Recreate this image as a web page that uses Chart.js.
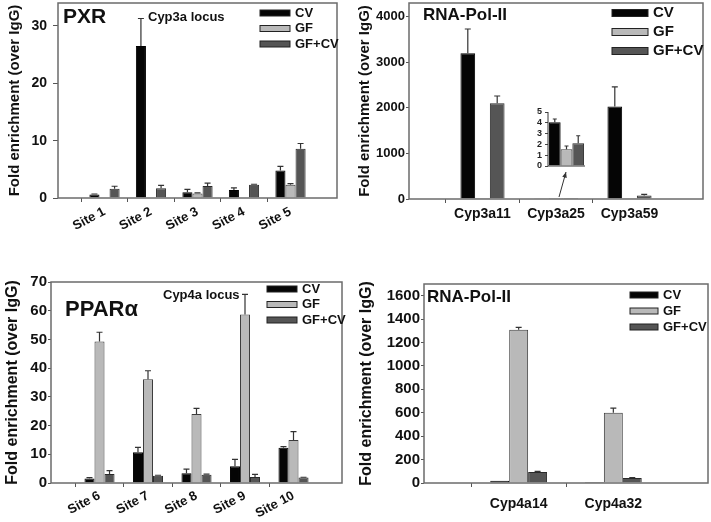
<!DOCTYPE html>
<html>
<head>
<meta charset="utf-8">
<script src="https://cdn.jsdelivr.net/npm/chart.js@4.4.0/dist/chart.umd.min.js"></script>
<style>
  body { margin: 0; background: #fff; }
  #wrap { position: relative; width: 711px; height: 522px; overflow: hidden; }
  canvas { position: absolute; }
</style>
</head>
<body>
<div id="wrap">
  <canvas id="pxrChart" width="355" height="240" style="left:0;top:0"></canvas>
  <canvas id="pol3Chart" width="356" height="240" style="left:355px;top:0"></canvas>
  <canvas id="insetChart" width="75" height="70" style="left:520px;top:100px"></canvas>
  <canvas id="pparChart" width="355" height="262" style="left:0;top:260px"></canvas>
  <canvas id="pol4Chart" width="356" height="262" style="left:355px;top:260px"></canvas>
</div>
<script>
// PXR ChIP, Cyp3a locus
const pxrSites = ['Site 1', 'Site 2', 'Site 3', 'Site 4', 'Site 5'];
const pxrTicks = [0, 10, 20, 30];
const pxrCV = [0.6, 26.5, 1.0, 1.4, 4.8];
const pxrCVErr = [0.1, 4.8, 0.5, 0.35, 0.7];
const pxrGF = [null, null, 0.8, null, 2.3];
const pxrGFErr = [null, null, 0.1, null, 0.2];
const pxrGFCV = [1.6, 1.7, 2.1, 2.3, 8.6];
const pxrGFCVErr = [0.45, 0.5, 0.5, 0.1, 0.9];

// RNA-Pol-II, Cyp3a genes
const pol3Genes = ['Cyp3a11', 'Cyp3a25', 'Cyp3a59'];
const pol3Ticks = [0, 1000, 2000, 3000, 4000];
const pol3CV = [3200, 4, 2030];
const pol3CVErr = [530, null, 430];
const pol3GF = [20, 1.5, 15];
const pol3GFErr = [null, null, null];
const pol3GFCV = [2100, 2.1, 78];
const pol3GFCVErr = [160, null, 25];

// inset: Cyp3a25 close-up
const insetTicks = [0, 1, 2, 3, 4, 5];
const insetCV = [4.05];
const insetCVErr = [0.3];
const insetGF = [1.55];
const insetGFErr = [0.3];
const insetGFCV = [2.1];
const insetGFCVErr = [0.7];

// PPARalpha ChIP, Cyp4a locus
const pparSites = ['Site 6', 'Site 7', 'Site 8', 'Site 9', 'Site 10'];
const pparTicks = [0, 10, 20, 30, 40, 50, 60, 70];
const pparCV = [1.6, 10.7, 3.4, 5.8, 12.3];
const pparCVErr = [0.3, 1.7, 1.4, 2.4, 0.4];
const pparGF = [49.3, 36.1, 24.0, 58.7, 15.0];
const pparGFErr = [3.2, 3.0, 2.0, 7.0, 2.9];
const pparGFCV = [3.1, 2.5, 2.9, 2.1, 1.9];
const pparGFCVErr = [1.2, 0.2, 0.2, 0.9, 0.1];

// RNA-Pol-II, Cyp4a genes
const pol4Genes = ['Cyp4a14', 'Cyp4a32'];
const pol4Ticks = [0, 200, 400, 600, 800, 1000, 1200, 1400, 1600];
const pol4CV = [20, 9];
const pol4CVErr = [null, null];
const pol4GF = [1310, 600];
const pol4GFErr = [20, 40];
const pol4GFCV = [95, 42];
const pol4GFCVErr = [5, 5];

const seriesNames = ['CV', 'GF', 'GF+CV'];
const seriesFill = ['#050505', '#b9b9b9', '#555555'];
const seriesEdge = ['#000000', '#3c3c3c', '#2a2a2a'];
const yTitle = 'Fold enrichment (over IgG)';

Chart.defaults.font.family = "'Liberation Sans', Arial, sans-serif";
Chart.defaults.color = '#111';
Chart.defaults.animation = false;

const framePlugin = {
    id: 'frame',
    afterDatasetsDraw(chart, args, opts) {
        const a = chart.chartArea, c = chart.ctx;
        c.save();
        c.strokeStyle = opts.color || '#6b6b6b';
        c.lineWidth = opts.width || 1.5;
        if (opts.box) {
            c.strokeRect(a.left, a.top, a.right - a.left, a.bottom - a.top);
        } else {
            c.beginPath();
            c.moveTo(a.left, a.top);
            c.lineTo(a.left, a.bottom);
            c.lineTo(a.right, a.bottom);
            c.stroke();
        }
        c.restore();
    }
};

const errorBarPlugin = {
    id: 'errorBars',
    afterDatasetsDraw(chart, args, opts) {
        const c = chart.ctx, y = chart.scales.y;
        c.save();
        c.strokeStyle = '#333';
        c.lineWidth = 1.2;
        chart.data.datasets.forEach((ds, i) => {
            if (!ds.errors) return;
            chart.getDatasetMeta(i).data.forEach((bar, j) => {
                const v = ds.data[j], e = ds.errors[j];
                if (v == null || e == null) return;
                const top = y.getPixelForValue(v + e);
                const half = (opts.cap || 6) / 2;
                c.beginPath();
                c.moveTo(bar.x, bar.y);
                c.lineTo(bar.x, top);
                c.moveTo(bar.x - half, top);
                c.lineTo(bar.x + half, top);
                c.stroke();
            });
        });
        c.restore();
    }
};

const boxLegendPlugin = {
    id: 'boxLegend',
    afterDraw(chart, args, o) {
        if (!o || o.x == null) return;
        const c = chart.ctx;
        c.save();
        c.font = o.font;
        c.textBaseline = 'middle';
        chart.data.datasets.forEach((ds, i) => {
            const y = o.y + i * o.gap;
            c.fillStyle = ds.backgroundColor;
            c.fillRect(o.x, y - o.h / 2, o.w, o.h);
            c.strokeStyle = '#222';
            c.lineWidth = 1;
            c.strokeRect(o.x, y - o.h / 2, o.w, o.h);
            c.fillStyle = '#111';
            c.fillText(ds.label, o.x + o.w + o.textGap, y);
        });
        c.restore();
    }
};

const notesPlugin = {
    id: 'notes',
    afterDraw(chart, args, o) {
        if (!o || !o.items) return;
        const c = chart.ctx;
        c.save();
        c.textBaseline = 'middle';
        c.fillStyle = '#111';
        o.items.forEach(n => {
            c.font = n.font;
            c.fillText(n.text, n.x, n.y);
        });
        c.restore();
    }
};

const pointerPlugin = {
    id: 'pointer',
    afterDraw(chart, args, o) {
        if (!o || !o.label) return;
        const c = chart.ctx;
        const x0 = chart.scales.x.getPixelForValue(chart.data.labels.indexOf(o.label)) + 3;
        const y0 = chart.scales.y.getPixelForValue(0) - 2;
        const x1 = x0 + o.dx, y1 = y0 + o.dy;
        const ang = Math.atan2(y1 - y0, x1 - x0);
        c.save();
        c.strokeStyle = '#333';
        c.fillStyle = '#333';
        c.lineWidth = 1;
        c.beginPath();
        c.moveTo(x0, y0);
        c.lineTo(x1, y1);
        c.stroke();
        c.beginPath();
        c.moveTo(x1, y1);
        c.lineTo(x1 - 6 * Math.cos(ang - 0.4), y1 - 6 * Math.sin(ang - 0.4));
        c.lineTo(x1 - 6 * Math.cos(ang + 0.4), y1 - 6 * Math.sin(ang + 0.4));
        c.closePath();
        c.fill();
        c.restore();
    }
};

Chart.register(framePlugin, errorBarPlugin, boxLegendPlugin, notesPlugin, pointerPlugin);

function barPanel(id, cats, tickVals, values, errors, opt) {
    const labels = ['', ...cats, ''];
    const pad = arr => [null, ...arr, null];
    return new Chart(document.getElementById(id), {
        type: 'bar',
        data: {
            labels: labels,
            datasets: values.map((vals, i) => ({
                label: seriesNames[i],
                data: pad(vals),
                errors: pad(errors[i]),
                backgroundColor: seriesFill[i],
                borderColor: seriesEdge[i],
                borderWidth: 1,
                categoryPercentage: opt.catPct,
                barPercentage: 1
            }))
        },
        options: {
            responsive: false,
            layout: { padding: opt.padding },
            scales: {
                x: {
                    offset: false,
                    grid: {
                        drawOnChartArea: false,
                        tickLength: 4,
                        color: ctx => (ctx.tick && ctx.tick.label) ? '#555' : 'rgba(0,0,0,0)'
                    },
                    border: { display: false },
                    ticks: {
                        autoSkip: false,
                        maxRotation: opt.rot,
                        minRotation: opt.rot,
                        font: { size: opt.xFont, weight: 'bold' },
                        color: '#111',
                        padding: opt.xPad
                    },
                    afterFit: s => { s.height = opt.xHeight; s.paddingLeft = 0; s.paddingRight = 0; }
                },
                y: {
                    min: 0,
                    max: opt.yMax,
                    afterBuildTicks: s => { s.ticks = tickVals.map(v => ({ value: v })); },
                    ticks: {
                        autoSkip: false,
                        callback: v => String(v),
                        font: { size: opt.yFont, weight: 'bold' },
                        color: '#111',
                        padding: opt.yPad
                    },
                    grid: { drawOnChartArea: false, tickLength: opt.tickLen, color: '#555' },
                    border: { display: false },
                    title: {
                        display: true,
                        text: yTitle,
                        font: { size: opt.titleFont, weight: 'bold' },
                        color: '#111',
                        padding: { top: opt.titlePad, bottom: 0 }
                    },
                    afterFit: s => { s.width = opt.yWidth; s.paddingTop = 0; s.paddingBottom = 0; }
                }
            },
            plugins: {
                legend: { display: false },
                tooltip: { enabled: false },
                frame: { box: true },
                errorBars: { cap: 6 },
                boxLegend: opt.legend,
                notes: { items: opt.notes },
                pointer: opt.pointer || {}
            }
        }
    });
}

barPanel('pxrChart', pxrSites, pxrTicks,
    [pxrCV, pxrGF, pxrGFCV], [pxrCVErr, pxrGFErr, pxrGFCVErr], {
        padding: { top: 3, right: 18, left: 0, bottom: 0 },
        yWidth: 58, xHeight: 42, yMax: 34,
        catPct: 0.65, rot: 28, xFont: 13, xPad: 2,
        yFont: 14, yPad: 6, tickLen: 5, titleFont: 15, titlePad: 6,
        legend: { x: 260, y: 13, gap: 15.5, w: 30, h: 6, textGap: 5, font: 'bold 13px "Liberation Sans", Arial' },
        notes: [
            { text: 'PXR', x: 63, y: 17, font: 'bold 21px "Liberation Sans", Arial' },
            { text: 'Cyp3a locus', x: 148, y: 17, font: 'bold 13px "Liberation Sans", Arial' }
        ]
    });

barPanel('pol3Chart', pol3Genes, pol3Ticks,
    [pol3CV, pol3GF, pol3GFCV], [pol3CVErr, pol3GFErr, pol3GFCVErr], {
        padding: { top: 3, right: 8, left: 0, bottom: 0 },
        yWidth: 54, xHeight: 41, yMax: 4300,
        catPct: 0.6, rot: 0, xFont: 14, xPad: 3,
        yFont: 13, yPad: 1, tickLen: 3, titleFont: 15, titlePad: 1,
        legend: { x: 257, y: 13, gap: 19, w: 36, h: 7, textGap: 5, font: 'bold 15px "Liberation Sans", Arial' },
        notes: [
            { text: 'RNA-Pol-II', x: 68, y: 15, font: 'bold 17px "Liberation Sans", Arial' }
        ],
        pointer: { label: 'Cyp3a25', dx: 7, dy: -25 }
    });

barPanel('pparChart', pparSites, pparTicks,
    [pparCV, pparGF, pparGFCV], [pparCVErr, pparGFErr, pparGFCVErr], {
        padding: { top: 22, right: 13, left: 0, bottom: 0 },
        yWidth: 51, xHeight: 39, yMax: 70,
        catPct: 0.62, rot: 28, xFont: 13, xPad: 1,
        yFont: 15, yPad: 1, tickLen: 3, titleFont: 16, titlePad: 3,
        legend: { x: 267, y: 29, gap: 15.5, w: 30, h: 6, textGap: 5, font: 'bold 13px "Liberation Sans", Arial' },
        notes: [
            { text: 'PPARα', x: 65, y: 50, font: 'bold 22px "Liberation Sans", Arial' },
            { text: 'Cyp4a locus', x: 163, y: 35, font: 'bold 13px "Liberation Sans", Arial' }
        ]
    });

barPanel('pol4Chart', pol4Genes, pol4Ticks,
    [pol4CV, pol4GF, pol4GFCV], [pol4CVErr, pol4GFErr, pol4GFCVErr], {
        padding: { top: 24, right: 3, left: 0, bottom: 0 },
        yWidth: 69, xHeight: 39, yMax: 1700,
        catPct: 0.6, rot: 0, xFont: 14, xPad: 9,
        yFont: 15, yPad: 1, tickLen: 3, titleFont: 16, titlePad: 2,
        legend: { x: 275, y: 35, gap: 16, w: 28, h: 6, textGap: 5, font: 'bold 13px "Liberation Sans", Arial' },
        notes: [
            { text: 'RNA-Pol-II', x: 72, y: 37, font: 'bold 17px "Liberation Sans", Arial' }
        ]
    });

// inset close-up of Cyp3a25
new Chart(document.getElementById('insetChart'), {
    type: 'bar',
    data: {
        labels: [''],
        datasets: [[insetCV, insetCVErr], [insetGF, insetGFErr], [insetGFCV, insetGFCVErr]].map((pair, i) => ({
            label: seriesNames[i],
            data: pair[0],
            errors: pair[1],
            backgroundColor: seriesFill[i],
            borderColor: seriesEdge[i],
            borderWidth: 1,
            categoryPercentage: 0.95,
            barPercentage: 1
        }))
    },
    options: {
        responsive: false,
        layout: { padding: { top: 12, right: 10, left: 0, bottom: 0 } },
        scales: {
            x: {
                offset: true,
                grid: { display: false },
                border: { display: false },
                ticks: { display: false },
                afterFit: s => { s.height = 4; s.paddingLeft = 0; s.paddingRight = 0; }
            },
            y: {
                min: 0,
                max: 5,
                afterBuildTicks: s => { s.ticks = insetTicks.map(v => ({ value: v })); },
                ticks: { autoSkip: false, font: { size: 9, weight: 'bold' }, color: '#222', padding: 3 },
                grid: { drawOnChartArea: false, tickLength: 3, color: '#444' },
                border: { display: false },
                afterFit: s => { s.width = 28; s.paddingTop = 0; s.paddingBottom = 0; }
            }
        },
        plugins: {
            legend: { display: false },
            tooltip: { enabled: false },
            frame: { box: false, color: '#333', width: 1 },
            errorBars: { cap: 4 },
            boxLegend: {},
            notes: {},
            pointer: {}
        }
    }
});
</script>
</body>
</html>
